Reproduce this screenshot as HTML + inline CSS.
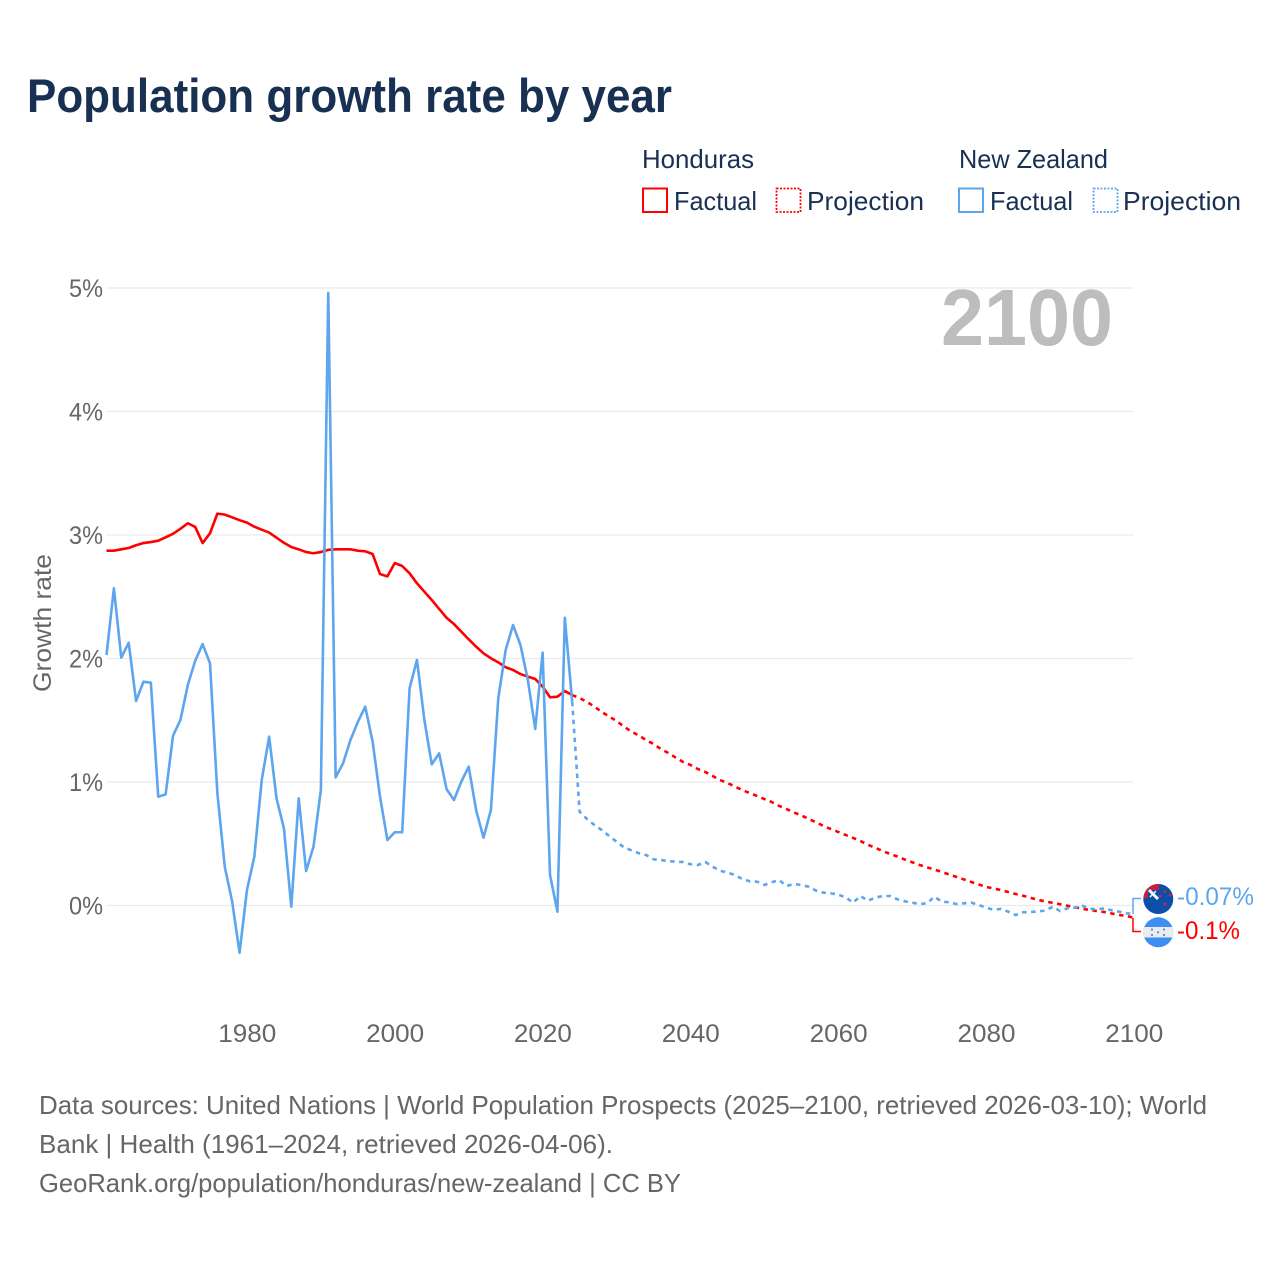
<!DOCTYPE html>
<html lang="en">
<head>
<meta charset="utf-8">
<title>Population growth rate by year</title>
<style>
html,body{margin:0;padding:0;background:#fff;width:1280px;height:1280px;overflow:hidden}
svg{display:block}
text{font-family:"Liberation Sans",sans-serif}
</style>
</head>
<body>
<svg id="chart" xmlns="http://www.w3.org/2000/svg" width="1280" height="1280" viewBox="0 0 1280 1280">
  <rect width="1280" height="1280" fill="#fff"/>
  <text x="27" y="112" font-size="47" font-weight="700" fill="#183153" textLength="645" lengthAdjust="spacingAndGlyphs">Population growth rate by year</text>

  <g font-size="26" fill="#183153">
    <text x="642" y="168" textLength="112" lengthAdjust="spacingAndGlyphs">Honduras</text>
    <text x="959" y="168" textLength="149" lengthAdjust="spacingAndGlyphs">New Zealand</text>
    <rect x="643" y="188.500" width="24" height="23.500" fill="none" stroke="#ff0000" stroke-width="2"/>
    <text x="674" y="210" textLength="83" lengthAdjust="spacingAndGlyphs">Factual</text>
    <rect x="776.500" y="188.500" width="24" height="23.500" fill="none" stroke="#ff0000" stroke-width="1.800" stroke-dasharray="2 1.500"/>
    <text x="807" y="210" textLength="117" lengthAdjust="spacingAndGlyphs">Projection</text>
    <rect x="959" y="188.500" width="24" height="23.500" fill="none" stroke="#5da5ee" stroke-width="2"/>
    <text x="990" y="210" textLength="83" lengthAdjust="spacingAndGlyphs">Factual</text>
    <rect x="1093.500" y="188.500" width="24" height="23.500" fill="none" stroke="#5da5ee" stroke-width="1.800" stroke-dasharray="2 1.500"/>
    <text x="1123" y="210" textLength="118" lengthAdjust="spacingAndGlyphs">Projection</text>
  </g>

  <g id="grid"></g>
  <g id="yticks" font-size="25" fill="#666" text-anchor="end"></g>
  <g id="xticks" font-size="25" fill="#666" text-anchor="middle"></g>
  <text transform="translate(51 623) rotate(-90)" font-size="25" fill="#666" text-anchor="middle" textLength="138" lengthAdjust="spacingAndGlyphs">Growth rate</text>
  <text x="941" y="345" font-size="80" font-weight="700" fill="#bdbdbd" textLength="172" lengthAdjust="spacingAndGlyphs">2100</text>

  <g id="series"></g>

  <path id="connector-nz" fill="none" stroke="#5da5ee" stroke-width="1.500"/>
  <path id="connector-hn" fill="none" stroke="#ff0000" stroke-width="1.500"/>

  <defs>
    <clipPath id="nz-clip"><circle cx="1158.300" cy="899" r="15"/></clipPath>
    <clipPath id="hn-clip"><circle cx="1158.300" cy="932.300" r="15"/></clipPath>
  </defs>
  <g clip-path="url(#nz-clip)">
    <rect x="1143" y="884" width="31" height="31" fill="#0b4fa8"/>
    <rect x="1143" y="884" width="16" height="6" fill="#c8203c"/>
    <rect x="1143" y="884" width="5" height="14" fill="#c8203c"/>
    <path d="M1149 890 L1158 899" stroke="#f4f4f4" stroke-width="3"/>
    <path d="M1150 897 L1156 891" stroke="#f4f4f4" stroke-width="1.500"/>
    <circle cx="1160" cy="896" r="1.300" fill="#e0203c"/>
    <circle cx="1165" cy="891.700" r="1.300" fill="#e0203c"/>
    <circle cx="1170" cy="895" r="1.300" fill="#e0203c"/>
    <circle cx="1165" cy="904" r="1.500" fill="#e0203c"/>
  </g>
  <g clip-path="url(#hn-clip)">
    <rect x="1143" y="917" width="31" height="31" fill="#3d8ef0"/>
    <rect x="1143" y="927" width="31" height="10.500" fill="#ececec"/>
    <circle cx="1152" cy="929.500" r="1.100" fill="#3d8ef0"/>
    <circle cx="1164" cy="929.500" r="1.100" fill="#3d8ef0"/>
    <circle cx="1158" cy="932.300" r="1.100" fill="#3d8ef0"/>
    <circle cx="1152" cy="935" r="1.100" fill="#3d8ef0"/>
    <circle cx="1164" cy="935" r="1.100" fill="#3d8ef0"/>
  </g>
  <text id="label-nz" x="1177" y="905" font-size="25" fill="#5da5ee" textLength="77" lengthAdjust="spacingAndGlyphs">-0.07%</text>
  <text id="label-hn" x="1177" y="939" font-size="25" fill="#ff0000" textLength="63" lengthAdjust="spacingAndGlyphs">-0.1%</text>

  <g font-size="26" fill="#666">
    <text x="39" y="1114" textLength="1168" lengthAdjust="spacingAndGlyphs">Data sources: United Nations | World Population Prospects (2025–2100, retrieved 2026-03-10); World</text>
    <text x="39" y="1153" textLength="574" lengthAdjust="spacingAndGlyphs">Bank | Health (1961–2024, retrieved 2026-04-06).</text>
    <text x="39" y="1192" textLength="642" lengthAdjust="spacingAndGlyphs">GeoRank.org/population/honduras/new-zealand | CC BY</text>
  </g>
</svg>
<script>
const yTickValues = [0, 1, 2, 3, 4, 5];
const yTickLabels = ["0%", "1%", "2%", "3%", "4%", "5%"];
const xTickValues = [1980, 2000, 2020, 2040, 2060, 2080, 2100];
const xTickLabels = ["1980", "2000", "2020", "2040", "2060", "2080", "2100"];
const factualStartYear = 1961;
const projectionStartYear = 2024;

const hondurasFactual = [
  2.873,2.873,2.884,2.895,2.917,2.935,2.943,2.954,2.981,3.01,
  3.05,3.095,3.065,2.935,3.014,3.173,3.165,3.143,3.12,3.1,
  3.067,3.043,3.02,2.978,2.937,2.903,2.884,2.862,2.852,2.862,
  2.88,2.884,2.884,2.884,2.873,2.868,2.846,2.684,2.665,2.773,
  2.749,2.69,2.609,2.541,2.474,2.401,2.33,2.279,2.217,2.155,
  2.096,2.042,2.002,1.969,1.929,1.907,1.874,1.853,1.834,1.772,
  1.686,1.691,1.737,1.704
];
const hondurasProjection = [
  1.704,1.68,1.648,1.611,1.567,1.53,1.494,1.449,1.409,1.377,
  1.34,1.308,1.267,1.235,1.198,1.162,1.138,1.105,1.081,1.049,
  1.016,0.992,0.964,0.935,0.911,0.887,0.862,0.838,0.806,0.781,
  0.753,0.73,0.7,0.674,0.644,0.619,0.595,0.571,0.547,0.522,
  0.492,0.467,0.441,0.417,0.397,0.372,0.35,0.328,0.309,0.291,
  0.271,0.252,0.231,0.211,0.19,0.17,0.15,0.138,0.125,0.109,
  0.093,0.079,0.062,0.046,0.032,0.022,0.01,-0.002,-0.014,-0.026,
  -0.036,-0.045,-0.053,-0.065,-0.077,-0.085,-0.1
];
const newZealandFactual = [
  2.028,2.568,2.007,2.128,1.656,1.812,1.804,0.881,0.9,1.375,
  1.502,1.785,1.982,2.117,1.961,0.908,0.314,0.031,-0.382,0.125,
  0.395,1.016,1.367,0.868,0.625,-0.01,0.868,0.279,0.476,0.935,
  4.96,1.038,1.151,1.34,1.486,1.61,1.327,0.881,0.53,0.593,
  0.593,1.759,1.988,1.502,1.143,1.232,0.943,0.854,1.003,1.124,
  0.773,0.549,0.773,1.678,2.069,2.271,2.109,1.826,1.429,2.047,
  0.247,-0.05,2.33,1.65
];
const newZealandProjection = [
  1.65,0.76,0.7,0.652,0.611,0.563,0.517,0.471,0.447,0.423,
  0.409,0.374,0.368,0.36,0.355,0.352,0.334,0.328,0.352,0.314,
  0.282,0.266,0.247,0.215,0.196,0.193,0.166,0.188,0.206,0.158,
  0.174,0.166,0.152,0.12,0.104,0.099,0.087,0.066,0.023,0.077,
  0.039,0.063,0.077,0.077,0.05,0.034,0.023,0.012,0.018,0.071,
  0.031,0.026,0.012,0.018,0.023,0.004,-0.018,-0.034,-0.028,-0.05,
  -0.077,-0.055,-0.053,-0.047,-0.042,-0.01,-0.045,-0.023,-0.018,-0.002,
  -0.026,-0.031,-0.023,-0.039,-0.05,-0.063,-0.07
];

const SVG_NS = "http://www.w3.org/2000/svg";
function xScale(year) { return 106.5 + (year - 1961) * (1134 - 106.5) / (2100 - 1961); }
function yScale(pct) { return 905.5 - pct * 123.5; }

function linePath(values, startYear) {
  return values.map(function (v, i) {
    return (i ? "L" : "M") + xScale(startYear + i).toFixed(2) + " " + yScale(v).toFixed(2);
  }).join(" ");
}

const gridGroup = document.getElementById("grid");
const yTickGroup = document.getElementById("yticks");
const xTickGroup = document.getElementById("xticks");
const seriesGroup = document.getElementById("series");

yTickValues.forEach(function (v, i) {
  const gl = document.createElementNS(SVG_NS, "line");
  
  
  gl.setAttribute("x1", 107);
  gl.setAttribute("x2", 1133);
  gl.setAttribute("y1", yScale(v));
  gl.setAttribute("y2", yScale(v));
  gl.setAttribute("stroke", "#ebebeb");
  gl.setAttribute("stroke-width", 1.2);
  gridGroup.appendChild(gl);

  const t = document.createElementNS(SVG_NS, "text");
  
  
  t.setAttribute("x", 103);
  t.setAttribute("y", yScale(v) + 9);
  t.setAttribute("textLength", 34);
  t.setAttribute("lengthAdjust", "spacingAndGlyphs");
  t.textContent = yTickLabels[i];
  yTickGroup.appendChild(t);
});

xTickValues.forEach(function (v, i) {
  const t = document.createElementNS(SVG_NS, "text");
  
  
  t.setAttribute("x", xScale(v) + 0.3);
  t.setAttribute("y", 1042);
  t.setAttribute("textLength", 58);
  t.setAttribute("lengthAdjust", "spacingAndGlyphs");
  t.textContent = xTickLabels[i];
  xTickGroup.appendChild(t);
});

function addSeries(values, startYear, color, dashed, name) {
  const p = document.createElementNS(SVG_NS, "path");
  
  
  p.setAttribute("d", linePath(values, startYear));
  p.setAttribute("fill", "none");
  p.setAttribute("stroke", color);
  p.setAttribute("stroke-width", 2.6);
  p.setAttribute("stroke-linejoin", "round");
  if (dashed) p.setAttribute("stroke-dasharray", "4.500 4.500");
  seriesGroup.appendChild(p);
}

addSeries(hondurasProjection, projectionStartYear, "#ff0000", true, "honduras-projection-line");
addSeries(hondurasFactual, factualStartYear, "#ff0000", false, "honduras-factual-line");
addSeries(newZealandProjection, projectionStartYear, "#5da5ee", true, "new-zealand-projection-line");
addSeries(newZealandFactual, factualStartYear, "#5da5ee", false, "new-zealand-factual-line");

const nzEnd = yScale(newZealandProjection[newZealandProjection.length - 1]);
const hnEnd = yScale(hondurasProjection[hondurasProjection.length - 1]);
document.getElementById("connector-nz").setAttribute("d", "M1133 " + nzEnd + " V898.500 H1141");
document.getElementById("connector-hn").setAttribute("d", "M1133 " + hnEnd + " V931.500 H1141");
</script>
</body>
</html>
